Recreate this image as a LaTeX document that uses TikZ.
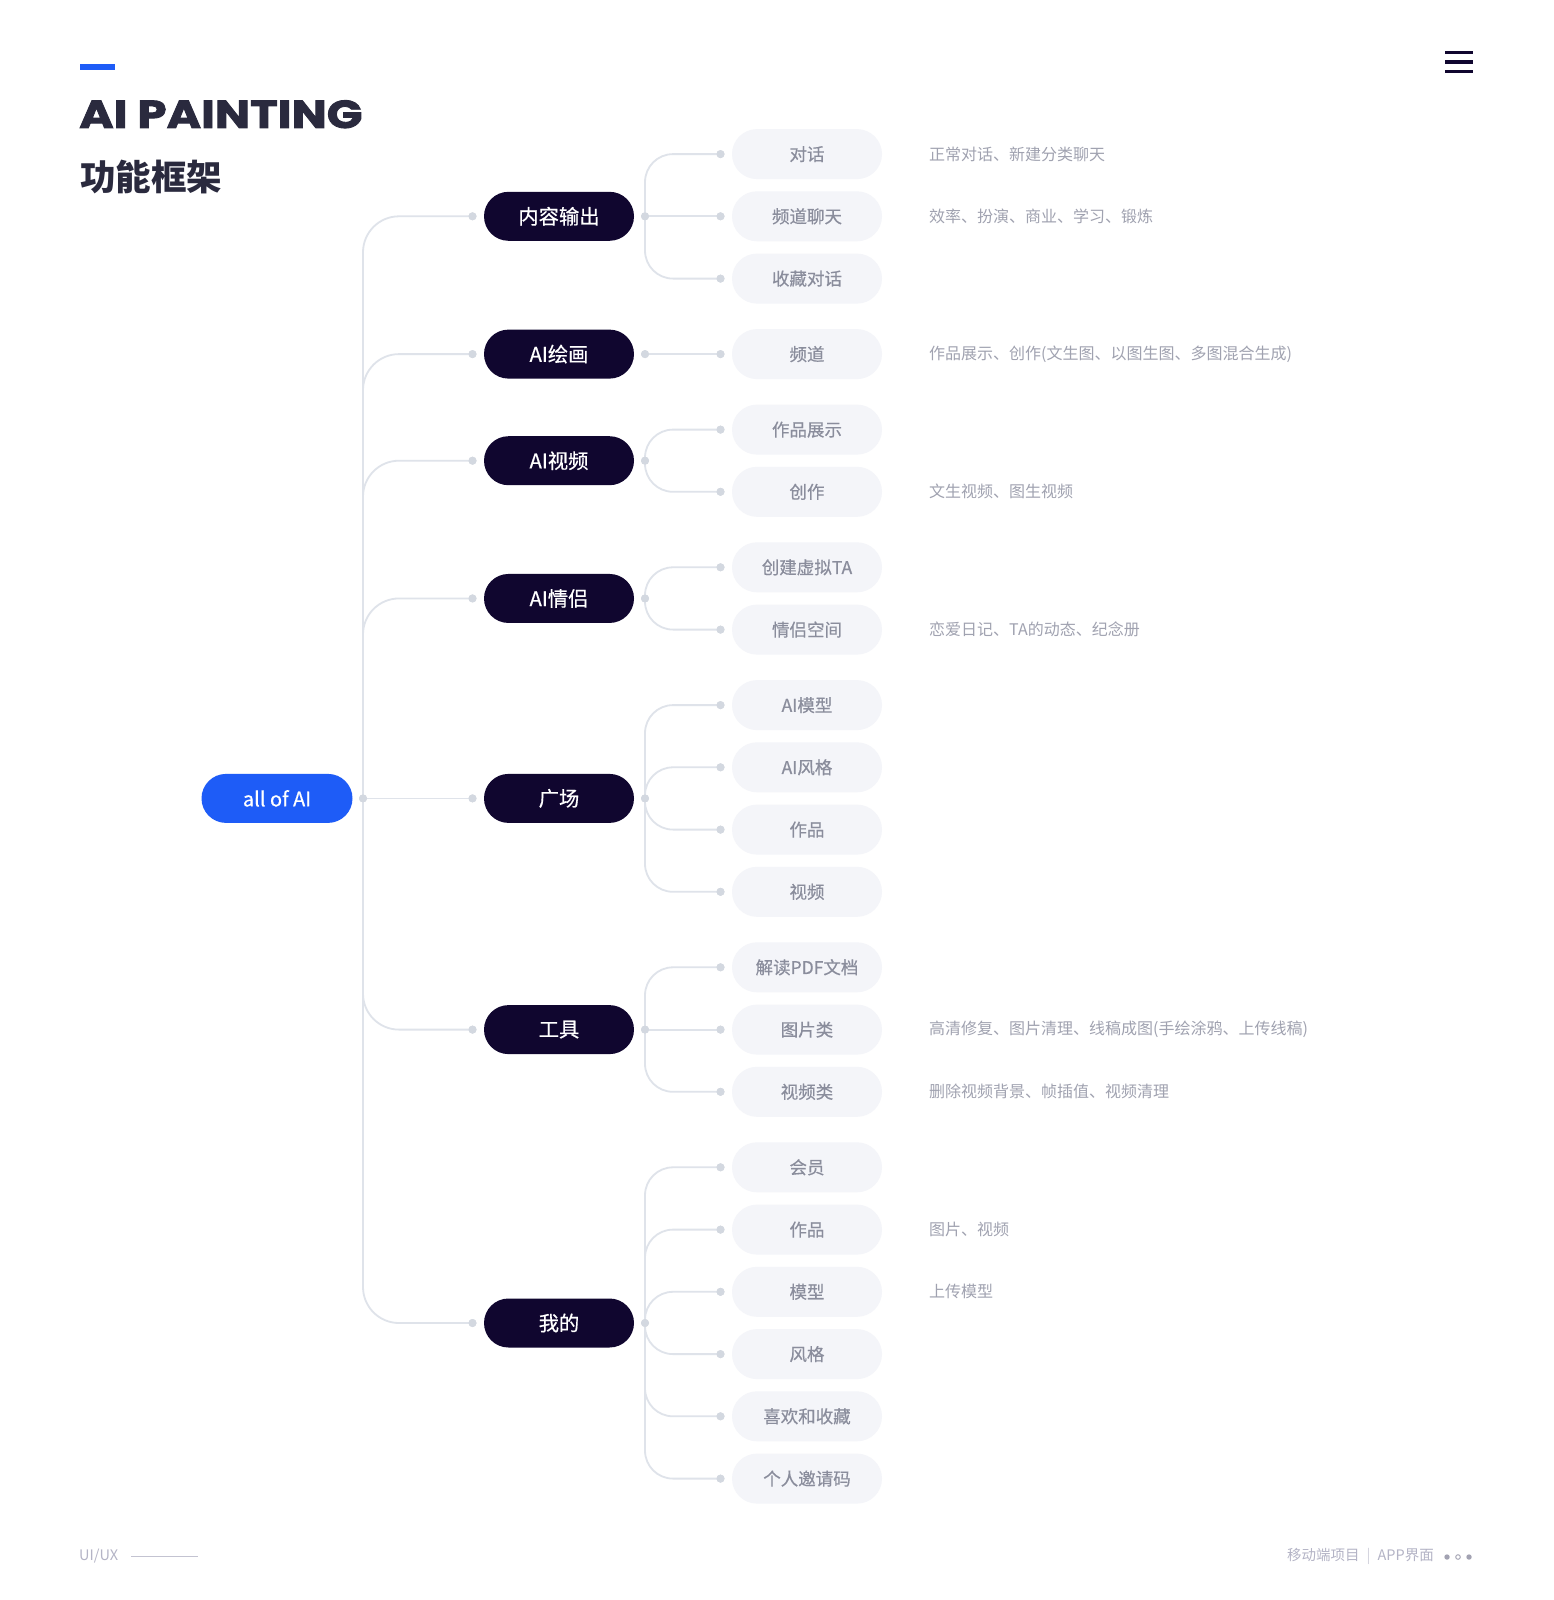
\documentclass[tikz,border=0pt]{standalone}
\usepackage{fontspec}
\setmainfont{Noto Sans CJK SC}
\newfontfamily\titlefont[BoldFeatures={FakeStretch=1.2,FakeBold=2.2}]{Poppins}
\newfontfamily\medfont[FakeBold=0.5]{Noto Sans CJK SC}
\definecolor{linec}{HTML}{DFE3EA}
\definecolor{dotc}{HTML}{D3D8E0}
\definecolor{ltwofill}{HTML}{F4F5F9}
\definecolor{ltwotext}{HTML}{8A8D9C}
\definecolor{desctext}{HTML}{A0A2B0}
\definecolor{darkn}{HTML}{10062F}
\definecolor{bluen}{HTML}{1E5CF7}
\definecolor{titlec}{HTML}{2A2A3E}
\definecolor{footc}{HTML}{B4B4C6}
\tikzset{
  rootbox/.style={fill=bluen, text=white, minimum width=151pt, minimum height=49pt, rounded corners=24.5pt, inner sep=0pt, font=\medfont\fontsize{20}{24}\selectfont},
  lonebox/.style={fill=darkn, text=white, minimum width=150pt, minimum height=49pt, rounded corners=24.5pt, inner sep=0pt, font=\medfont\fontsize{20.3}{24}\selectfont},
  ltwobox/.style={fill=ltwofill, text=ltwotext, minimum width=150pt, minimum height=50pt, rounded corners=25pt, inner sep=0pt, font=\medfont\fontsize{17.5}{22}\selectfont},
  desc/.style={anchor=west, inner sep=0pt, text=desctext, font=\fontsize{16}{20}\selectfont},
  dotn/.style={circle, fill=dotc, inner sep=0pt, minimum size=8pt},
  conn/.style={draw=linec, line width=1.8pt},
}
\begin{document}
\begin{tikzpicture}[x=1pt,y=-1pt]
\useasboundingbox (0,0) rectangle (1554,1600);
\fill[white] (0,0) rectangle (1554,1600);

% header
\fill[bluen] (80,64) rectangle (115,70.5);
\node[anchor=base west, inner sep=0pt, text=titlec, font=\titlefont\bfseries\fontsize{39}{42}\selectfont] (title) at (79,128) {AI PAINTING};
\node[anchor=base west, inner sep=0pt, text=titlec, font=\bfseries\fontsize{35.5}{38}\selectfont] (subtitle) at (80,190) {功能框架};
\foreach \yy in {52.7,62.2,71.7}
  \draw[darkn, line width=3.5pt] (1445,\yy) -- (1473,\yy);

% root
\node[rootbox] (root) at (277,798.4) {all of AI};
\node[dotn] (rdot) at (363,798.4) {};

% level one
\foreach \n/\y/\t in {a/216.3/内容输出, b/354.1/AI绘画, c/460.7/AI视频, d/598.45/AI情侣, e/798.4/广场, f/1029.6/工具, g/1323/我的}{
  \node[lonebox] (\n) at (559,\y) {\t};
  \node[dotn] (\n-in) at (472.5,\y) {};
  \node[dotn] (\n-out) at (645,\y) {};
}

% level two
\foreach \n/\y/\t in {a1/154.1/对话, a2/216.3/频道聊天, a3/278.6/收藏对话, b1/354.1/频道, c1/429.6/作品展示, c2/491.8/创作, d1/567.3/创建虚拟TA, d2/629.6/情侣空间, e1/705.1/AI模型, e2/767.3/AI风格, e3/829.6/作品, e4/891.8/视频, f1/967.3/解读PDF文档, f2/1029.6/图片类, f3/1091.8/视频类, g1/1167.3/会员, g2/1229.6/作品, g3/1291.8/模型, g4/1354.1/风格, g5/1416.3/喜欢和收藏, g6/1478.6/个人邀请码}{
  \node[ltwobox] (\n) at (807,\y) {\t};
  \node[dotn] (\n-in) at (720.5,\y) {};
}

% descriptions
\node[desc] (da1) at (929,154.1) {正常对话、新建分类聊天};
\node[desc] (da2) at (929,216.3) {效率、扮演、商业、学习、锻炼};
\node[desc] (db1) at (929,354.1) {作品展示、创作(文生图、以图生图、多图混合生成)};
\node[desc] (dc2) at (929,491.8) {文生视频、图生视频};
\node[desc] (dd2) at (929,629.6) {恋爱日记、TA的动态、纪念册};
\node[desc] (df2) at (929,1029.6) {高清修复、图片清理、线稿成图(手绘涂鸦、上传线稿)};
\node[desc] (df3) at (929,1091.8) {删除视频背景、帧插值、视频清理};
\node[desc] (dg2) at (929,1229.6) {图片、视频};
\node[desc] (dg3) at (929,1291.8) {上传模型};

% connectors root -> level one
\foreach \n in {a,b,c,d,f,g}
  \draw[conn, rounded corners=36pt] (rdot.center) |- (\n-in.center);
\draw[conn] (rdot.center) -- (e-in.center);

% connectors level one -> level two
\foreach \c/\p in {a1/a, a3/a, c1/c, c2/c, d1/d, d2/d, e1/e, e2/e, e3/e, e4/e, f1/f, f3/f, g1/g, g2/g, g3/g, g4/g, g5/g, g6/g}
  \draw[conn, rounded corners=28pt] (\p-out.center) |- (\c-in.center);
\foreach \c/\p in {a2/a, b1/b, f2/f}
  \draw[conn] (\p-out.center) -- (\c-in.center);

% redraw dots on top
\foreach \n in {a,b,c,d,e,f,g}{
  \fill[dotc] (\n-in) circle (4pt);
  \fill[dotc] (\n-out) circle (4pt);
}
\foreach \n in {a1,a2,a3,b1,c1,c2,d1,d2,e1,e2,e3,e4,f1,f2,f3,g1,g2,g3,g4,g5,g6}
  \fill[dotc] (\n-in) circle (4pt);
\fill[dotc] (rdot) circle (4pt);

% footer
\node[anchor=west, inner sep=0pt, text=footc, font=\fontsize{14.5}{16}\selectfont] (uiux) at (79,1556) {UI/UX};
\coordinate (fl1) at (131,1556);
\coordinate (fl2) at (198,1556);
\draw[footc!80, line width=1pt] (fl1) -- (fl2);
\node[anchor=east, inner sep=0pt, text=footc, font=\fontsize{14.5}{16}\selectfont] (proj) at (1434,1556) {移动端项目\hspace{7pt}{\color{footc!60}|}\hspace{7pt}APP界面};
\fill[footc!90!black] (1447,1557) circle (2.7pt);
\draw[footc!90!black, line width=0.9pt] (1458,1557) circle (2.3pt);
\fill[footc!90!black] (1469,1557) circle (2.7pt);
\end{tikzpicture}
\end{document}
